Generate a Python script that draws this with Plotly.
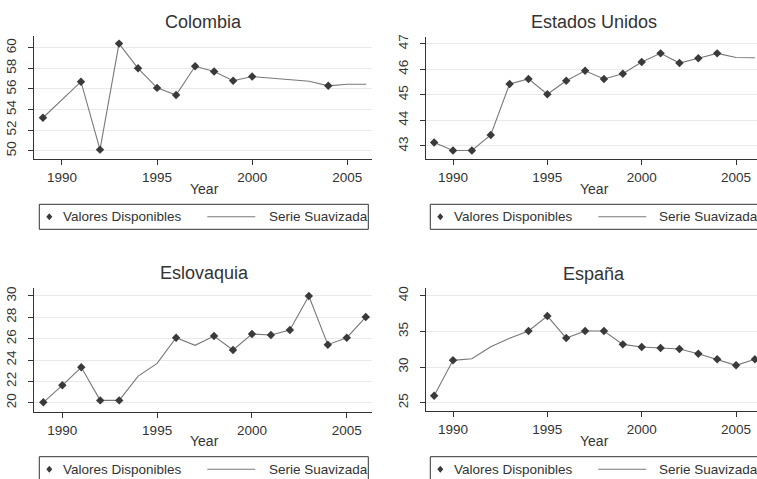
import plotly.graph_objects as go

# ---- data ---------------------------------------------------------------
years = list(range(1989, 2007))

colombia_obs = [53.2, None, 56.7, 50.1, 60.4, 58.0, 56.1, 55.4, 58.2, 57.7,
                56.8, 57.2, None, None, None, 56.3, None, None]
colombia_smooth = [53.2, 54.95, 56.7, 50.1, 60.4, 58.0, 56.1, 55.4, 58.2, 57.7,
                   56.8, 57.2, 57.05, 56.9, 56.75, 56.3, 56.45, 56.45]

usa_obs = [43.13, 42.82, 42.82, 43.43, 45.42, 45.62, 45.02, 45.55, 45.94, 45.62,
           45.82, 46.28, 46.62, 46.24, 46.43, 46.62, None, None]
usa_smooth = [43.13, 42.82, 42.82, 43.43, 45.42, 45.62, 45.02, 45.55, 45.94, 45.62,
              45.82, 46.28, 46.62, 46.24, 46.43, 46.62, 46.46, 46.45]

slovakia_obs = [20.04, 21.63, 23.32, 20.22, 20.22, None, None, 26.09, None, 26.25,
                24.94, 26.44, 26.35, 26.81, 30.0, 25.44, 26.09, 28.03]
slovakia_smooth = [20.04, 21.63, 23.32, 20.22, 20.22, 22.5, 23.69, 26.09, 25.38, 26.25,
                   24.94, 26.44, 26.35, 26.81, 30.0, 25.44, 26.09, 28.03]

spain_obs = [25.98, 30.94, None, None, None, 35.05, 37.15, 34.07, 35.05, 35.05,
             33.18, 32.81, 32.67, 32.53, 31.87, 31.08, 30.24, 31.08]
spain_smooth = [25.98, 30.94, 31.17, 32.85, 34.03, 35.05, 37.15, 34.07, 35.05, 35.05,
                33.18, 32.81, 32.67, 32.53, 31.87, 31.08, 30.24, 31.08]

countries = ["Colombia", "Estados Unidos", "Eslovaquia", "España"]
observed = [colombia_obs, usa_obs, slovakia_obs, spain_obs]
smoothed = [colombia_smooth, usa_smooth, slovakia_smooth, spain_smooth]
x_ticks = [1990, 1995, 2000, 2005]
y_ticks = [[50, 52, 54, 56, 58, 60], [43, 44, 45, 46, 47],
           [20, 22, 24, 26, 28, 30], [25, 30, 35, 40]]
legend_labels = ["Valores Disponibles", "Serie Suavizada"]
x_label = "Year"

# ---- layout (pixel geometry of each panel) ------------------------------
W, H = 757, 479
FONT = "Liberation Sans, Arial, Helvetica, sans-serif"
INK = "#333333"
LINE = "#787878"
MARK = "#3a3a3a"


def fx(p):
    return p / W


def fy(p):
    return 1 - p / H


panels = [
    dict(xpx=(34, 372), ypx=(36, 159), xr=(1988.53, 2006.3), yr=(49.19, 61.14),
         title=(203.3, 21.7), xlab=(204.7, 189), leg=(39.3, 204.3), key2=228),
    dict(xpx=(426.3, 757), ypx=(36.5, 158.7), xr=(1988.585, 2006.11), yr=(42.50, 47.28),
         title=(593.5, 21.7), xlab=(594.7, 189), leg=(430.3, 204.3), key2=226.5),
    dict(xpx=(34.3, 372), ypx=(288.3, 411.7), xr=(1988.523, 2006.33), yr=(19.16, 30.72),
         title=(204.7, 273.3), xlab=(204.0, 440.7), leg=(39.3, 456.7), key2=228),
    dict(xpx=(426.3, 757), ypx=(288.3, 411.0), xr=(1988.585, 2006.11), yr=(23.84, 41.04),
         title=(594.0, 273.7), xlab=(594.0, 441.0), leg=(430.3, 456.7), key2=226.5),
]

fig = go.Figure()
shapes = []
annotations = []
layout_axes = {}

for i, (name, obs, smooth, yt, geo) in enumerate(
        zip(countries, observed, smoothed, y_ticks, panels)):
    n = "" if i == 0 else str(i + 1)
    xa, ya = "x" + n, "y" + n

    fig.add_trace(go.Scatter(x=years, y=smooth, mode="lines", xaxis=xa, yaxis=ya,
                             line=dict(color=LINE, width=1.1),
                             name=legend_labels[1], showlegend=False,
                             hoverinfo="skip"))
    fig.add_trace(go.Scatter(x=years, y=obs, mode="markers", xaxis=xa, yaxis=ya,
                             marker=dict(symbol="diamond", size=6.5, color=MARK),
                             name=legend_labels[0], showlegend=False))

    layout_axes["xaxis" + n] = dict(
        domain=[fx(geo["xpx"][0]), fx(geo["xpx"][1])], range=list(geo["xr"]),
        anchor=ya, tickvals=x_ticks, showgrid=False, zeroline=False,
        showline=True, linecolor=INK, linewidth=1,
        ticks="outside", ticklen=5, tickcolor=INK, ticklabelstandoff=1,
        tickfont=dict(family=FONT, size=13.5, color=INK))
    layout_axes["yaxis" + n] = dict(
        domain=[fy(geo["ypx"][1]), fy(geo["ypx"][0])], range=list(geo["yr"]),
        anchor=xa, tickvals=yt, tickangle=-90, showgrid=True,
        gridcolor="#e9e9e9", gridwidth=1, zeroline=False,
        showline=True, linecolor=INK, linewidth=1,
        ticks="outside", ticklen=5, tickcolor=INK, ticklabelstandoff=7,
        tickfont=dict(family=FONT, size=13.5, color=INK))

    # panel title and x-axis label
    annotations.append(dict(text=name, x=fx(geo["title"][0]), y=fy(geo["title"][1]),
                            xref="paper", yref="paper", showarrow=False,
                            xanchor="center", yanchor="middle",
                            font=dict(family=FONT, size=18, color=INK)))
    annotations.append(dict(text=x_label, x=fx(geo["xlab"][0]), y=fy(geo["xlab"][1]),
                            xref="paper", yref="paper", showarrow=False,
                            xanchor="center", yanchor="middle",
                            font=dict(family=FONT, size=14, color=INK)))

    # legend box under each panel
    lx, ly = geo["leg"]
    cy = ly + 12.5
    shapes.append(dict(type="rect", xref="paper", yref="paper",
                       x0=fx(lx), x1=fx(lx + 329), y0=fy(ly + 25), y1=fy(ly),
                       line=dict(color=INK, width=1), fillcolor="white", layer="below"))
    shapes.append(dict(type="path", xref="paper", yref="paper",
                       xsizemode="pixel", ysizemode="pixel",
                       xanchor=fx(lx + 10), yanchor=fy(cy),
                       path="M -3,0 L 0,3.5 L 3,0 L 0,-3.5 Z",
                       fillcolor=MARK, line=dict(width=0)))
    shapes.append(dict(type="line", xref="paper", yref="paper",
                       x0=fx(lx + 168), x1=fx(lx + 216), y0=fy(cy), y1=fy(cy),
                       line=dict(color=LINE, width=1.1)))
    annotations.append(dict(text=legend_labels[0], x=fx(lx + 22), y=fy(cy),
                            xref="paper", yref="paper", showarrow=False,
                            xanchor="left", yanchor="middle",
                            font=dict(family=FONT, size=13.5, color=INK)))
    annotations.append(dict(text=legend_labels[1], x=fx(lx + geo["key2"]), y=fy(cy),
                            xref="paper", yref="paper", showarrow=False,
                            xanchor="left", yanchor="middle",
                            font=dict(family=FONT, size=13.5, color=INK)))

fig.update_layout(
    width=W, height=H, margin=dict(l=0, r=0, t=0, b=0, autoexpand=False),
    paper_bgcolor="white", plot_bgcolor="white",
    showlegend=False, shapes=shapes, annotations=annotations,
    font=dict(family=FONT, color=INK), **layout_axes)

fig.write_html("out.html", config={"displayModeBar": False})
